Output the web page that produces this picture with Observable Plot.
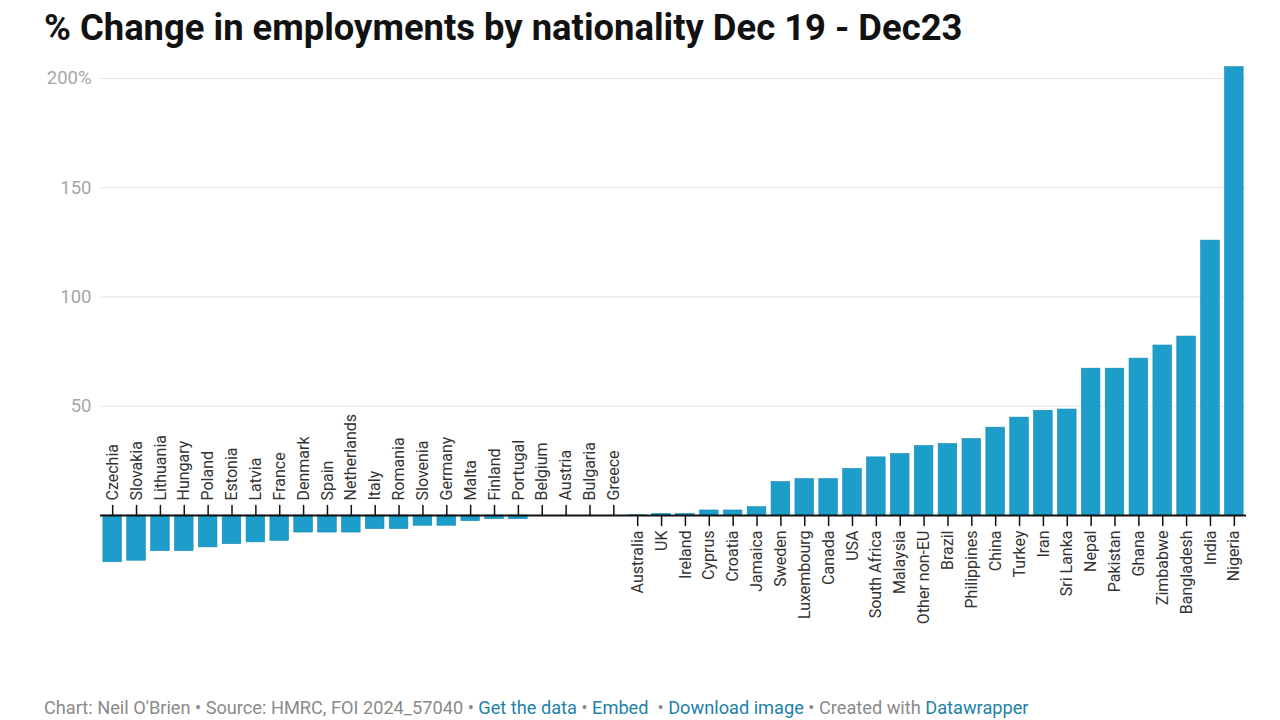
<!DOCTYPE html>
<html>
<head>
<meta charset="utf-8">
<script src="https://cdn.jsdelivr.net/npm/d3@7"></script>
<script src="https://cdn.jsdelivr.net/npm/@observablehq/plot@0.6"></script>
<style>
  html, body { margin: 0; padding: 0; background: #fff; width: 1280px; height: 720px; overflow: hidden; font-family: Roboto, "Noto Sans", sans-serif; }
  #title { position: absolute; left: 44px; top: 6px; font: 700 36.4px Roboto, sans-serif; color: #111; white-space: nowrap; }
  #chart { position: absolute; left: 0; top: 50px; }
  #footer { position: absolute; left: 44px; top: 697px; font: 400 18.2px Roboto, sans-serif; color: #8a8a8a; white-space: nowrap; }
  #footer .lk { color: #1d81a8; }
</style>
</head>
<body>
<div id="title">% Change in employments by nationality Dec 19 - Dec23</div>
<div id="chart"></div>
<div id="footer">Chart: Neil O'Brien • Source: HMRC, FOI 2024_57040 • <span class="lk">Get the data</span> • <span class="lk">Embed</span> &nbsp;• <span class="lk">Download image</span> • Created with <span class="lk">Datawrapper</span></div>
<script>
const countries = ["Czechia","Slovakia","Lithuania","Hungary","Poland","Estonia","Latvia","France","Denmark","Spain","Netherlands","Italy","Romania","Slovenia","Germany","Malta","Finland","Portugal","Belgium","Austria","Bulgaria","Greece","Australia","UK","Ireland","Cyprus","Croatia","Jamaica","Sweden","Luxembourg","Canada","USA","South Africa","Malaysia","Other non-EU","Brazil","Philippines","China","Turkey","Iran","Sri Lanka","Nepal","Pakistan","Ghana","Zimbabwe","Bangladesh","India","Nigeria"];
const changes = [-21.4,-20.7,-16.3,-16.3,-14.6,-13.1,-12.3,-11.6,-7.8,-7.8,-7.8,-6.2,-6.2,-4.7,-4.7,-2.6,-1.7,-1.7,0,0,0,0,0.1,0.7,0.7,2.3,2.3,3.8,15.3,16.7,16.7,21.3,26.6,28.1,31.8,32.7,35.0,40.2,44.8,47.9,48.5,67.2,67.2,71.8,77.8,81.9,125.8,205.2];
const yTicks = [50, 100, 150, 200];

const data = countries.map((c, i) => ({country: c, value: changes[i]}));
const belowLabels = data.filter((d, i) => i >= 22);
const aboveLabels = data.filter((d, i) => i < 22);

const barColor = "#1c9dca";

const chart = Plot.plot({
  width: 1280,
  height: 600,
  marginLeft: 100,
  marginRight: 34,
  style: {fontFamily: "Roboto, sans-serif", background: "transparent"},
  x: {domain: countries, axis: null, paddingInner: 0.22, paddingOuter: 0.12},
  y: {domain: [0, 200], range: [465, 28], axis: null},
  marks: [
    Plot.ruleY(yTicks, {stroke: "#e3e3e3", strokeWidth: 1}),
    Plot.text(yTicks, {y: d => d, frameAnchor: "left", textAnchor: "end", dx: -9, text: d => d === 200 ? "200%" : String(d), fill: "#a6a6a6", fontSize: 18.5}),
    Plot.barY(data, {x: "country", y: "value", fill: barColor, stroke: "#1889b3", strokeWidth: 0.6}),
    Plot.ruleY([0], {stroke: "#111", strokeWidth: 2}),
    Plot.vector(aboveLabels, {x: "country", y: 0, length: 10, rotate: 0, anchor: "start", stroke: "#111", strokeWidth: 1.5, r: 0}),
    Plot.vector(belowLabels, {x: "country", y: 0, length: 10, rotate: 180, anchor: "start", stroke: "#111", strokeWidth: 1.5, r: 0}),
    Plot.text(aboveLabels, {x: "country", y: 0, text: "country", rotate: -90, textAnchor: "start", dy: -15, fill: "#333", fontSize: 16}),
    Plot.text(belowLabels, {x: "country", y: 0, text: "country", rotate: -90, textAnchor: "end", dy: 15, fill: "#333", fontSize: 16})
  ]
});
document.getElementById("chart").appendChild(chart);
</script>
</body>
</html>
